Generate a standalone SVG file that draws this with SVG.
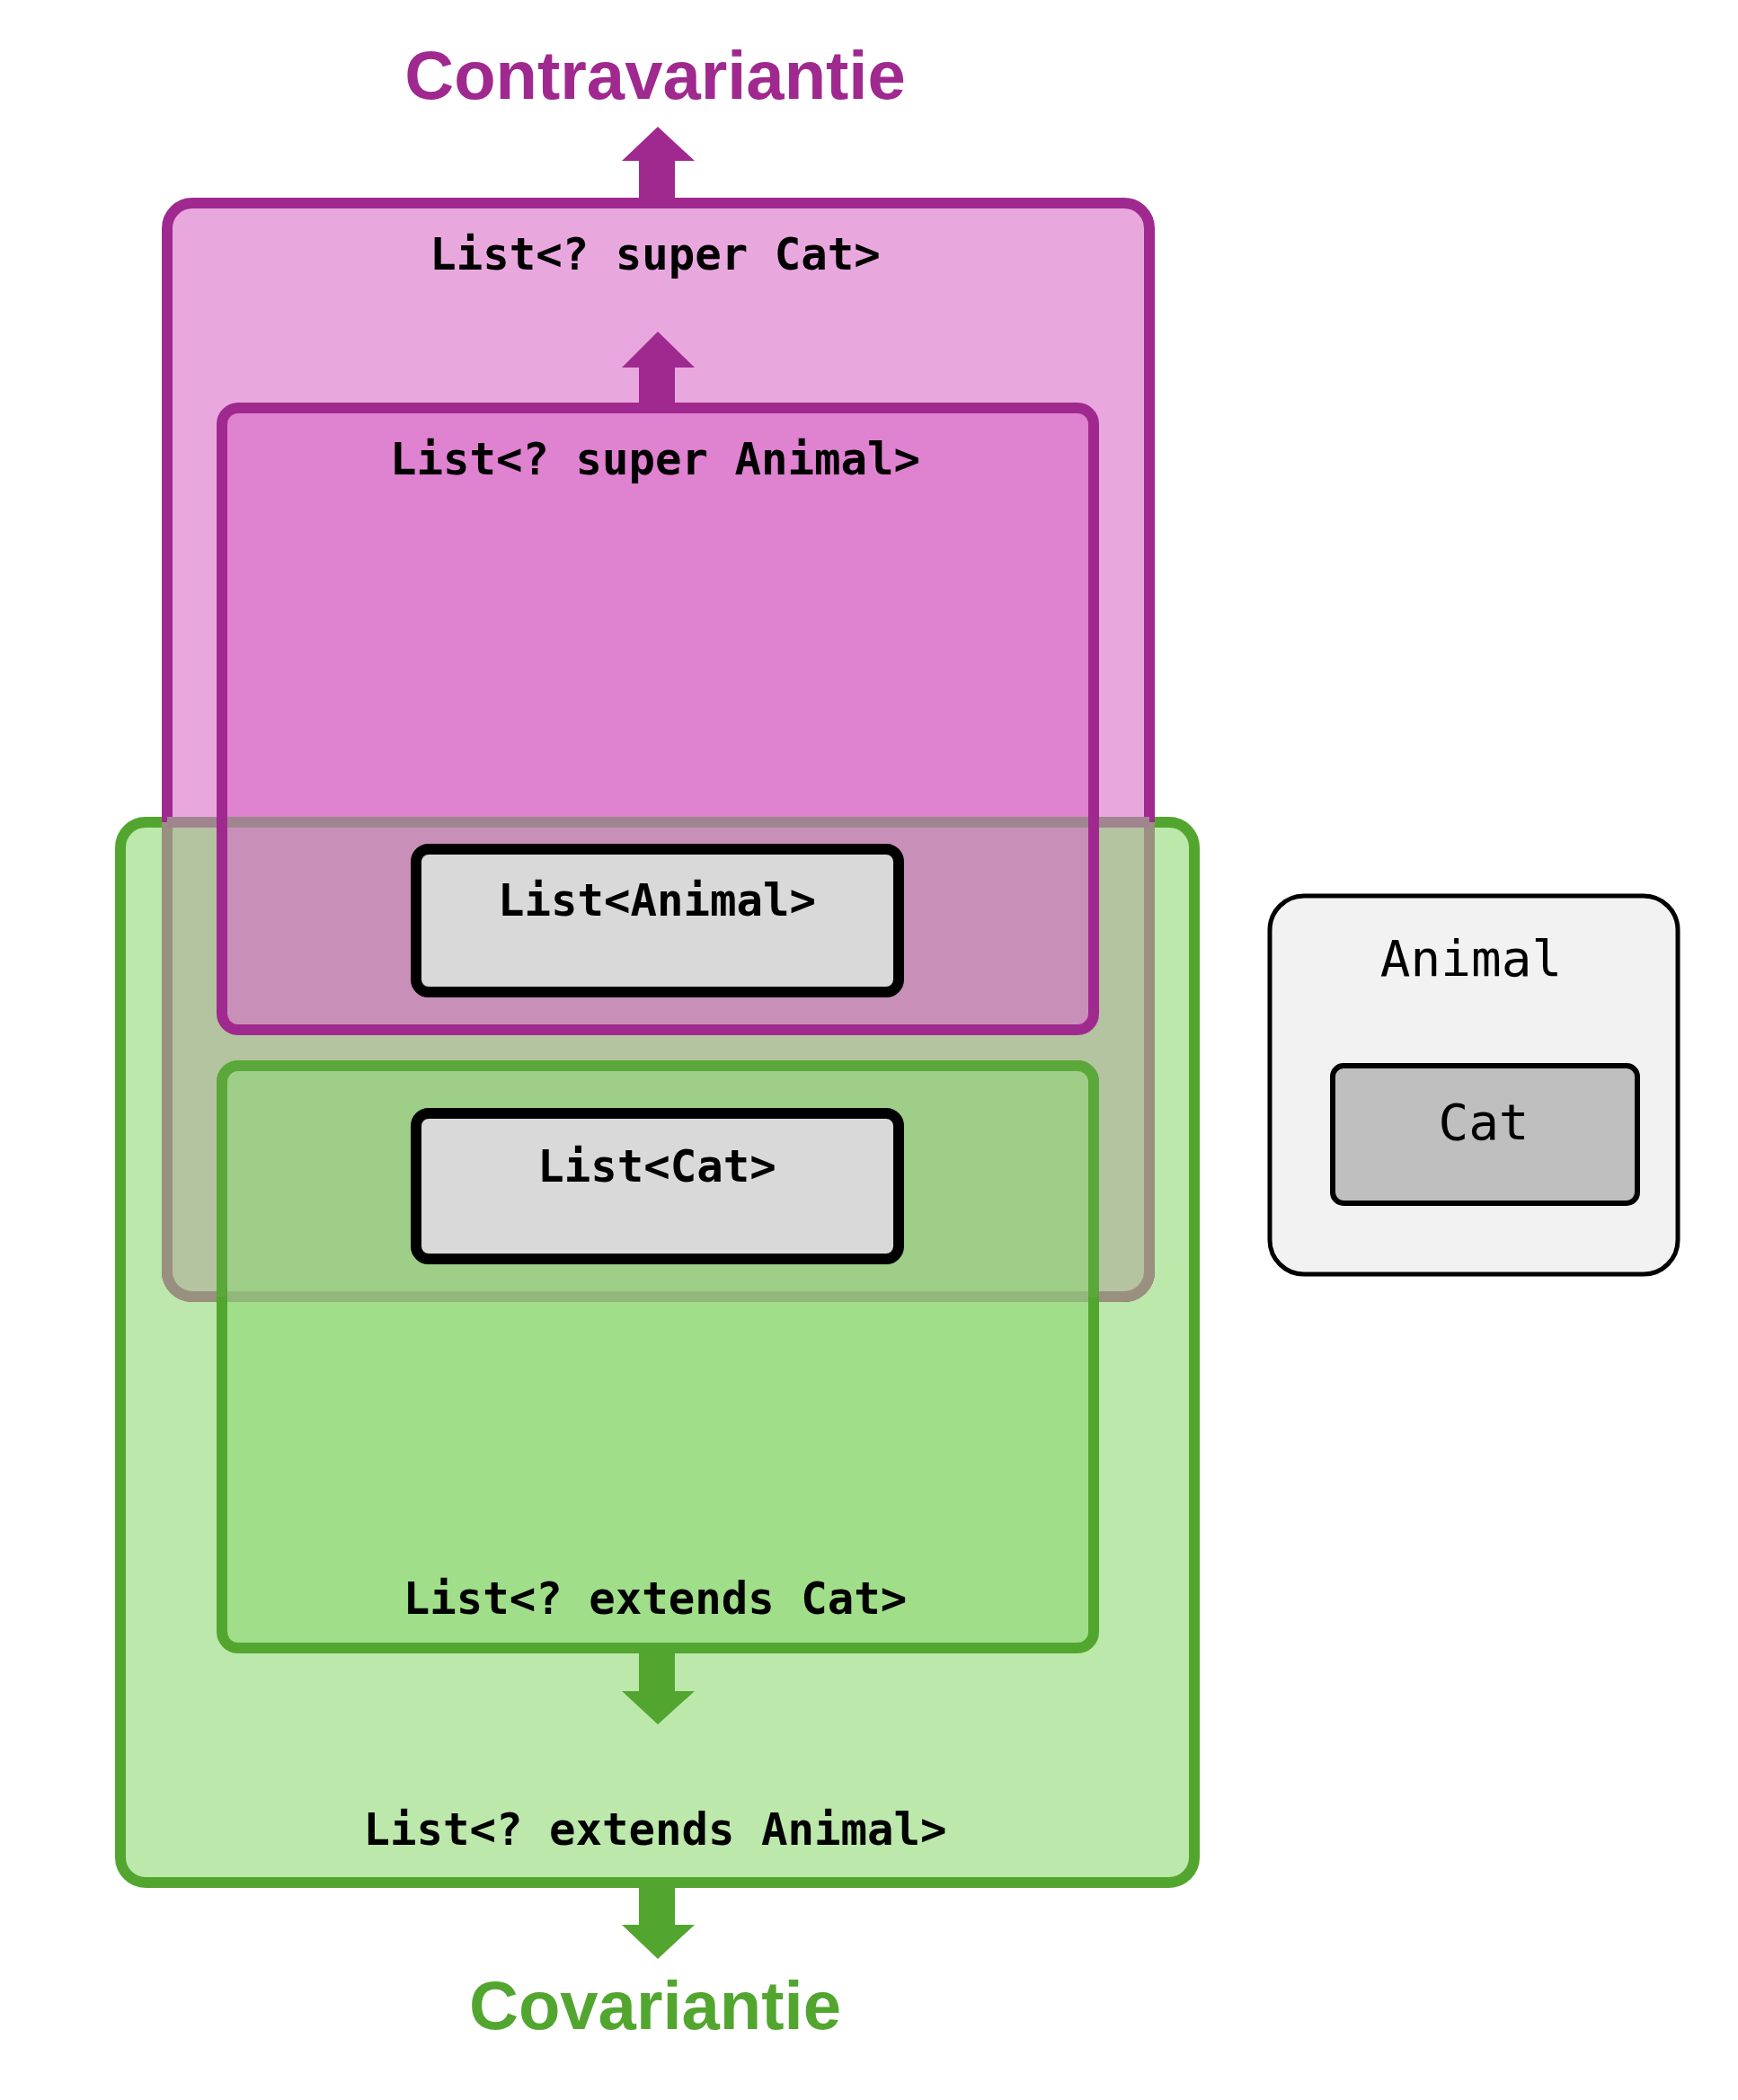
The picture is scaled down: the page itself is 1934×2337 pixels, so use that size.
<svg xmlns="http://www.w3.org/2000/svg" width="1934" height="2337" viewBox="0 0 1934 2337">
<style>
.lbl{font-family:"DejaVu Sans Mono","Liberation Mono",monospace;font-weight:bold;font-size:49px;text-anchor:middle;fill:#000}
.nrm{font-family:"DejaVu Sans Mono","Liberation Mono",monospace;font-size:56px;text-anchor:middle;fill:#000}
.ttl{font-family:"Liberation Sans",Arial,sans-serif;font-weight:bold;font-size:76px;text-anchor:middle}
</style>
<defs>
<clipPath id="below"><rect x="0" y="915" width="1934" height="1500"/></clipPath>
<clipPath id="above"><rect x="0" y="0" width="1934" height="1443"/></clipPath>
</defs>
<rect width="1934" height="2337" fill="#fff"/>
<g id="covariant-outer">
<rect x="134" y="915" width="1195" height="1180" rx="28" fill="#bce8ab" stroke="#52a62f" stroke-width="12"/>
</g>
<g id="contra-outer">
<rect x="186" y="226" width="1093" height="1217" rx="28" fill="#e8a8de" stroke="#a0298f" stroke-width="12"/>
<rect x="186" y="226" width="1093" height="1217" rx="28" fill="#b4c4a0" stroke="#9a9080" stroke-width="12" clip-path="url(#below)"/>
<text class="lbl" x="729" y="300">List&lt;? super Cat&gt;</text>
</g>
<g id="contra-inner">
<rect x="247" y="454" width="970" height="692" rx="18" fill="#df82d0"/>
<rect x="247" y="454" width="970" height="692" rx="18" fill="#c890b8" clip-path="url(#below)"/>
<line x1="186" y1="915" x2="1279" y2="915" stroke="#a08590" stroke-width="12"/>
<rect x="247" y="454" width="970" height="692" rx="18" fill="none" stroke="#a0298f" stroke-width="12"/>
<text class="lbl" x="729" y="528">List&lt;? super Animal&gt;</text>
</g>
<g id="covariant-inner">
<rect x="247" y="1186" width="970" height="648" rx="18" fill="#a0de8a" stroke="#52a62f" stroke-width="12"/>
<rect x="247" y="1186" width="970" height="648" rx="18" fill="#9ece88" stroke="#5aa83a" stroke-width="12" clip-path="url(#above)"/>
<line x1="253" y1="1443" x2="1211" y2="1443" stroke="#92b87c" stroke-width="12"/>
<text class="lbl" x="729" y="1796">List&lt;? extends Cat&gt;</text>
<text class="lbl" x="729" y="2053">List&lt;? extends Animal&gt;</text>
</g>
<g id="list-animal">
<rect x="463" y="945" width="537" height="159" rx="14" fill="#d9d9d9" stroke="#000" stroke-width="12"/>
<text class="lbl" x="731" y="1019">List&lt;Animal&gt;</text>
</g>
<g id="list-cat">
<rect x="463" y="1239" width="537" height="162" rx="14" fill="#d9d9d9" stroke="#000" stroke-width="12"/>
<text class="lbl" x="731" y="1315">List&lt;Cat&gt;</text>
</g>
<g id="legend">
<rect x="1413" y="997" width="454" height="421" rx="38" fill="#f2f2f2" stroke="#000" stroke-width="5"/>
<text class="nrm" x="1637" y="1086">Animal</text>
<g id="legend-cat">
<rect x="1483" y="1186" width="339" height="153" rx="12" fill="#bfbfbf" stroke="#000" stroke-width="6"/>
<text class="nrm" x="1651" y="1268">Cat</text>
</g>
</g>
<g id="connectors">
<polygon points="711,223 711,179 692,179 732,141 773,179 751,179 751,223" fill="#a0298f"/>
<polygon points="711,454 711,409 692,409 732,369 773,409 751,409 751,454" fill="#a0298f"/>
<polygon points="711,1840 711,1882 692,1882 732,1919 773,1882 751,1882 751,1840" fill="#52a62f"/>
<polygon points="711,2101 711,2142 692,2142 732,2180 773,2142 751,2142 751,2101" fill="#52a62f"/>
</g>
<text class="ttl" x="729" y="110" fill="#a0298f">Contravariantie</text>
<text class="ttl" x="729" y="2258" fill="#52a62f">Covariantie</text>
</svg>
